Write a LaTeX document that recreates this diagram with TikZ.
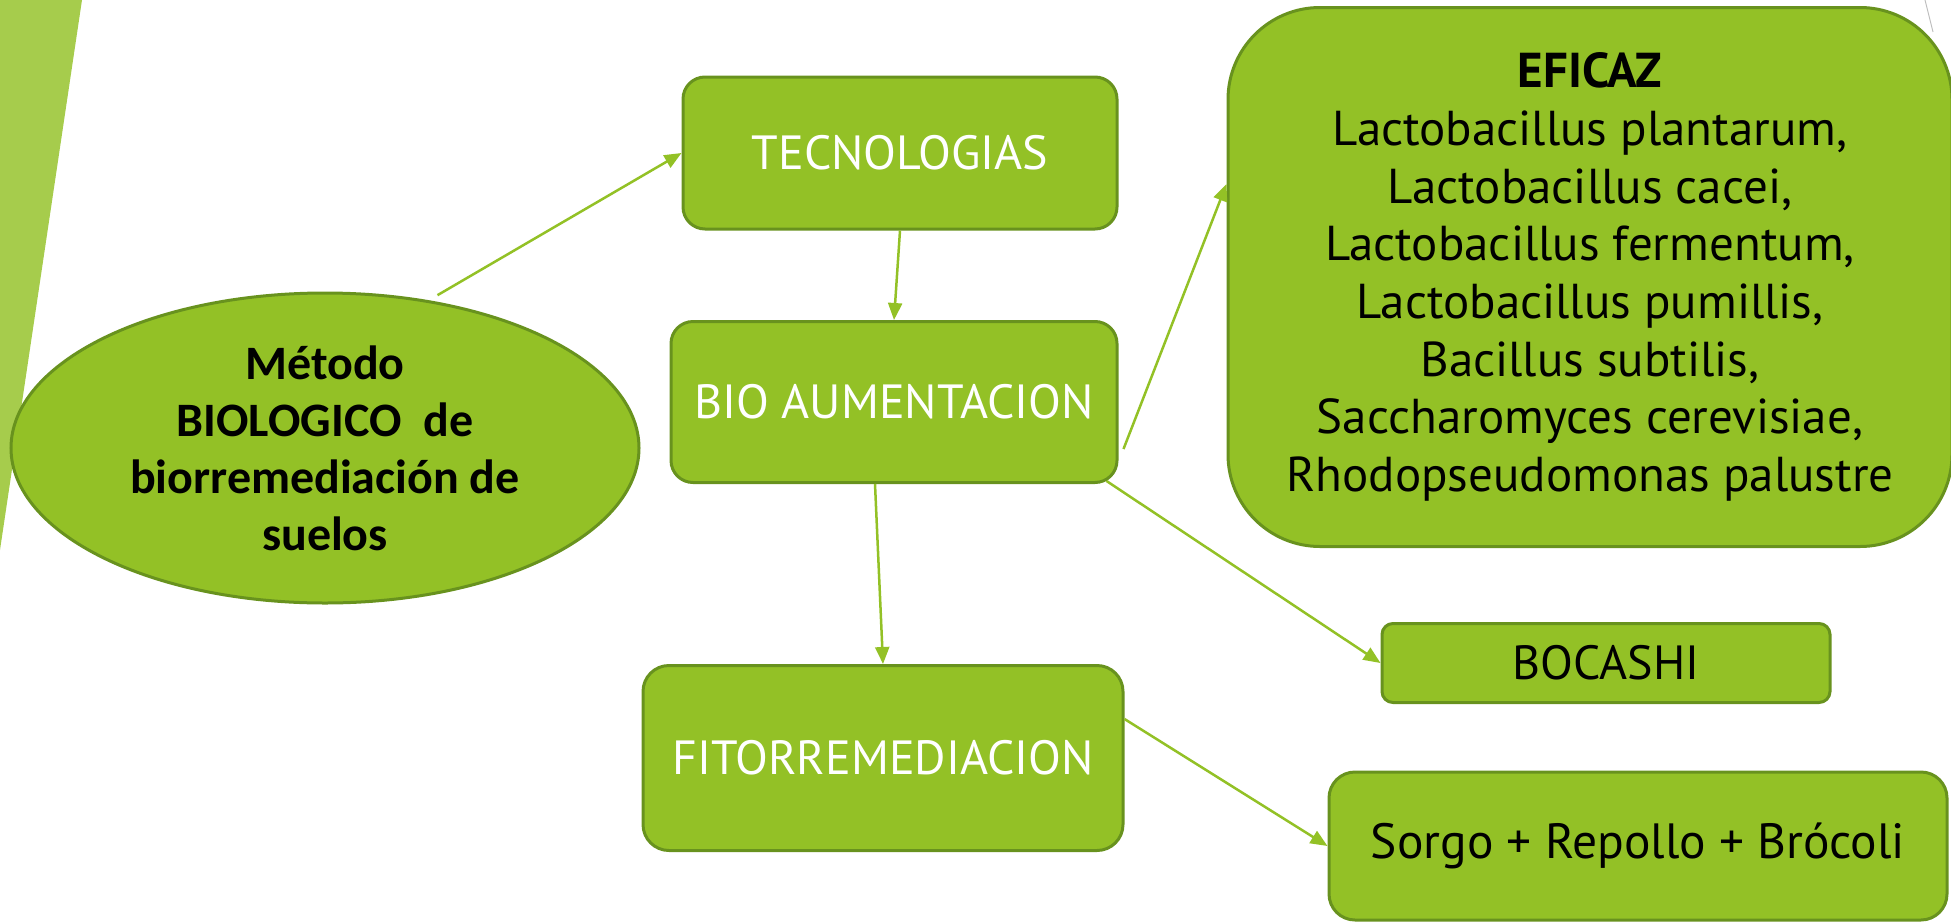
\documentclass[tikz,border=0pt]{standalone}
\usepackage{fontspec}
\setmainfont{PT Sans}
\newfontfamily\ellfont{Carlito}
\usepackage{xcolor}
\usetikzlibrary{shapes.geometric,arrows.meta,calc}
\definecolor{leafgreen}{RGB}{147,193,38}
\definecolor{darkleaf}{RGB}{104,146,30}
\definecolor{paleleaf}{RGB}{166,204,76}

\begin{document}
\begin{tikzpicture}[x=1pt, y=-1pt,
        box/.style={rectangle, draw=darkleaf, fill=leafgreen, line width=3pt, rounded corners=22pt, inner sep=0pt, align=center, font=\fontsize{48}{58}\selectfont},
        whitebox/.style={box, text=white},
        link/.style={-{Triangle[length=17pt,width=14pt]}, draw=leafgreen, line width=2.5pt}
    ]
        \useasboundingbox (0,0) rectangle (1951,921);

        % Background
        \fill[paleleaf] (0,0) -- (82,0) -- (0,550) -- cycle;
        \draw[black!25, line width=1pt] (1925,0) -- (1933,32);

        % Blocks
        \node[ellipse, draw=darkleaf, fill=leafgreen, line width=3pt, minimum width=628pt, minimum height=310pt, inner sep=0pt, align=center, font=\ellfont\bfseries\fontsize{48}{57}\selectfont] (metodo) at (325,448) {Método\\BIOLOGICO\ \ de\\biorremediación de\\suelos};
        \node[whitebox, minimum width=434pt, minimum height=152pt] (tecno) at (900,153) {TECNOLOGIAS};
        \node[whitebox, minimum width=446pt, minimum height=161pt] (bioaum) at (894,402) {BIO AUMENTACION};
        \node[whitebox, minimum width=480pt, minimum height=185pt, rounded corners=26pt] (fito) at (883,758) {FITORREMEDIACION};
        \node[box, minimum width=724pt, minimum height=539pt, rounded corners=92pt, font=\fontsize{49}{57.7}\selectfont] (eficaz) at (1590,277) {\textbf{EFICAZ}\\Lactobacillus plantarum,\\Lactobacillus cacei,\\Lactobacillus fermentum,\\Lactobacillus pumillis,\\Bacillus subtilis,\\Saccharomyces cerevisiae,\\Rhodopseudomonas palustre};
        \node[box, minimum width=448pt, minimum height=79pt, rounded corners=11pt] (bocashi) at (1606,663) {BOCASHI};
        \node[box, minimum width=618pt, minimum height=148pt, rounded corners=26pt, font=\fontsize{49.5}{60}\selectfont] (sorgo) at (1638,846) {Sorgo + Repollo + Brócoli};

        % Arrows
        \draw[link] ($(metodo.55)+(9,-5)$) -- (tecno.west);
        \draw[link] (tecno.south) -- (bioaum.north);
        \draw[link] ($(bioaum.east)+(5,47)$) -- ($(eficaz.west)+(0,-93)$);
        \draw[link] ($(bioaum.south east)+(-12,-3)$) -- (bocashi.west);
        \draw[link] ($(bioaum.south)+(-19,0)$) -- (fito.north);
        \draw[link] ($(fito.east)+(0,-39)$) -- (sorgo.west);

    \end{tikzpicture}
\end{document}
